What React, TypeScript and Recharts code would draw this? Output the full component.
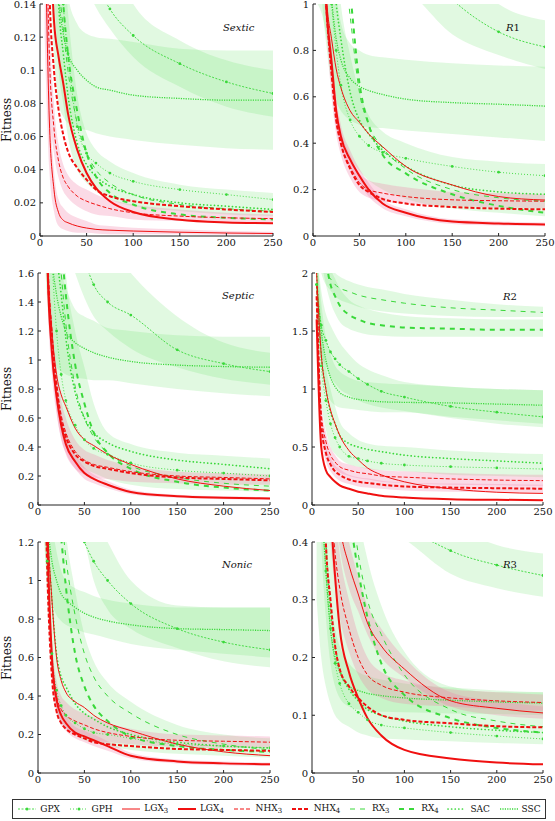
import React from "react";
import { ComposedChart, Line, Area, XAxis, YAxis } from "recharts";

const GREEN = "#3ad83a";
const RED = "#f01010";
const GREEN_BAND = "#5ee05e";
const PINK_BAND = "#f27aa6";
const FONT = "'DejaVu Serif', serif";

const GENS = [5, 10, 15, 20, 25, 30, 40, 50, 60, 75, 100, 150, 200, 250];
const X_TICKS = [0, 50, 100, 150, 200, 250];

// ---- Sextic ----
const SEXTIC_GPX = [0.6, 0.5, 0.4, 0.32, 0.27, 0.24, 0.2, 0.17, 0.153, 0.137, 0.121, 0.104, 0.093, 0.086];
const SEXTIC_GPH = [0.5, 0.4, 0.3, 0.2, 0.14, 0.11, 0.066, 0.05, 0.044, 0.038, 0.033, 0.028, 0.025, 0.022];
const SEXTIC_LGX3 = [0.2, 0.07, 0.028, 0.014, 0.0095, 0.008, 0.006, 0.0048, 0.004, 0.0035, 0.003, 0.0023, 0.0018, 0.0015];
const SEXTIC_LGX4 = [0.5, 0.22, 0.13, 0.108, 0.092, 0.074, 0.052, 0.038, 0.029, 0.021, 0.0145, 0.0098, 0.0082, 0.0077];
const SEXTIC_NHX3 = [0.25, 0.11, 0.065, 0.045, 0.035, 0.03, 0.024, 0.021, 0.019, 0.0165, 0.014, 0.012, 0.011, 0.0105];
const SEXTIC_NHX4 = [0.4, 0.15, 0.1, 0.076, 0.061, 0.051, 0.041, 0.034, 0.028, 0.024, 0.021, 0.018, 0.016, 0.0145];
const SEXTIC_RX3 = [0.5, 0.35, 0.25, 0.16, 0.125, 0.1, 0.068, 0.05, 0.04, 0.032, 0.025, 0.019, 0.0165, 0.015];
const SEXTIC_RX4 = [0.5, 0.4, 0.28, 0.19, 0.14, 0.11, 0.075, 0.05, 0.036, 0.026, 0.019, 0.013, 0.011, 0.01];
const SEXTIC_SAC = [0.5, 0.35, 0.22, 0.14, 0.11, 0.085, 0.056, 0.043, 0.036, 0.03, 0.025, 0.02, 0.018, 0.016];
const SEXTIC_SSC = [0.4, 0.3, 0.2, 0.145, 0.122, 0.11, 0.1, 0.094, 0.09, 0.088, 0.085, 0.083, 0.082, 0.082];
const SEXTIC_GPX_LO = [0.4, 0.35, 0.3, 0.26, 0.23, 0.21, 0.175, 0.15, 0.138, 0.125, 0.108, 0.09, 0.078, 0.072];
const SEXTIC_GPX_HI = [0.8, 0.7, 0.6, 0.5, 0.4, 0.35, 0.3, 0.26, 0.2, 0.17, 0.14, 0.118, 0.106, 0.1];
const SEXTIC_SSC_LO = [0.25, 0.17, 0.11, 0.08, 0.072, 0.068, 0.065, 0.064, 0.062, 0.06, 0.058, 0.055, 0.053, 0.052];
const SEXTIC_SSC_HI = [0.6, 0.45, 0.3, 0.22, 0.17, 0.145, 0.128, 0.122, 0.12, 0.119, 0.117, 0.113, 0.112, 0.112];
const SEXTIC_GPH_LO = [0.3, 0.2, 0.15, 0.1, 0.08, 0.06, 0.04, 0.032, 0.027, 0.022, 0.018, 0.015, 0.013, 0.012];
const SEXTIC_GPH_HI = [0.7, 0.6, 0.4, 0.22, 0.17, 0.135, 0.085, 0.062, 0.052, 0.045, 0.038, 0.031, 0.028, 0.026];
const SEXTIC_LGX3_LO = [0.12, 0.04, 0.015, 0.006, 0.004, 0.003, 0.002, 0.002, 0.0015, 0.001, 0.001, 0.001, 0.0008, 0.0006];
const SEXTIC_LGX3_HI = [0.28, 0.1, 0.04, 0.022, 0.017, 0.014, 0.011, 0.009, 0.007, 0.006, 0.005, 0.004, 0.003, 0.0025];
const SEXTIC_NHX3_LO = [0.2, 0.08, 0.05, 0.035, 0.027, 0.023, 0.018, 0.015, 0.013, 0.012, 0.01, 0.009, 0.008, 0.008];
const SEXTIC_NHX3_HI = [0.3, 0.14, 0.08, 0.055, 0.043, 0.037, 0.031, 0.028, 0.025, 0.022, 0.019, 0.016, 0.014, 0.013];

// ---- R1 ----
const R1_GPX = [3, 2.8, 2.5, 2.3, 2.1, 2, 1.8, 1.65, 1.55, 1.42, 1.25, 1.02, 0.88, 0.815];
const R1_GPH = [2.5, 1.8, 1.3, 1.0, 0.8, 0.65, 0.5, 0.43, 0.39, 0.36, 0.335, 0.3, 0.275, 0.26];
const R1_LGX3 = [2, 1.4, 1.0, 0.85, 0.72, 0.64, 0.54, 0.49, 0.44, 0.385, 0.3, 0.22, 0.17, 0.155];
const R1_LGX4 = [2, 1.3, 0.95, 0.75, 0.54, 0.43, 0.33, 0.26, 0.2, 0.14, 0.1, 0.062, 0.054, 0.05];
const R1_NHX3 = [2, 1.3, 0.95, 0.7, 0.5, 0.4, 0.3, 0.23, 0.2, 0.185, 0.17, 0.156, 0.152, 0.15];
const R1_NHX4 = [2, 1.3, 0.95, 0.7, 0.5, 0.4, 0.29, 0.22, 0.19, 0.16, 0.14, 0.125, 0.118, 0.115];
const R1_RX3 = [3, 2.6, 2.2, 1.8, 1.5, 1.3, 0.95, 0.62, 0.48, 0.38, 0.29, 0.2, 0.165, 0.15];
const R1_RX4 = [3, 2.6, 2.2, 1.9, 1.6, 1.4, 1.05, 0.66, 0.48, 0.35, 0.27, 0.18, 0.13, 0.1];
const R1_SAC = [2.5, 2, 1.5, 1.2, 1.0, 0.85, 0.62, 0.5, 0.44, 0.37, 0.3, 0.22, 0.19, 0.18];
const R1_SSC = [2, 1.6, 1.25, 1.02, 0.85, 0.76, 0.68, 0.645, 0.627, 0.61, 0.59, 0.575, 0.568, 0.56];
const R1_GPX_LO = [2, 1.9, 1.8, 1.7, 1.6, 1.5, 1.4, 1.3, 1.2, 1.1, 1.06, 0.87, 0.78, 0.72];
const R1_GPX_HI = [4, 3.5, 3, 2.8, 2.6, 2.5, 2.2, 2, 1.9, 1.75, 1.5, 1.2, 1.0, 0.93];
const R1_SSC_LO = [1.3, 1.0, 0.8, 0.65, 0.58, 0.54, 0.5, 0.48, 0.47, 0.465, 0.455, 0.44, 0.425, 0.41];
const R1_SSC_HI = [2.5, 2.0, 1.6, 1.3, 1.05, 0.92, 0.83, 0.8, 0.78, 0.77, 0.76, 0.745, 0.735, 0.73];
const R1_GPH_LO = [1.0, 0.95, 0.85, 0.75, 0.6, 0.45, 0.34, 0.28, 0.24, 0.2, 0.16, 0.12, 0.1, 0.085];
const R1_GPH_HI = [3, 2.5, 2, 1.6, 1.2, 1.0, 0.78, 0.62, 0.52, 0.45, 0.4, 0.34, 0.32, 0.31];
const R1_LGX4_LO = [1.8, 1.2, 0.88, 0.68, 0.48, 0.38, 0.29, 0.23, 0.17, 0.12, 0.085, 0.052, 0.045, 0.042];
const R1_LGX4_HI = [2.2, 1.4, 1.02, 0.82, 0.6, 0.48, 0.37, 0.29, 0.23, 0.16, 0.115, 0.072, 0.063, 0.058];
const R1_NHX3_LO = [1.8, 1.2, 0.85, 0.6, 0.44, 0.35, 0.25, 0.19, 0.165, 0.15, 0.14, 0.13, 0.122, 0.12];
const R1_NHX3_HI = [2.2, 1.4, 1.05, 0.8, 0.58, 0.46, 0.35, 0.27, 0.24, 0.225, 0.21, 0.19, 0.185, 0.18];

// ---- Septic ----
const SEPTIC_GPX = [4, 3.6, 3.2, 2.9, 2.6, 2.4, 2.0, 1.7, 1.52, 1.4, 1.31, 1.07, 0.975, 0.92];
const SEPTIC_GPH = [3, 2.4, 1.7, 1.2, 0.9, 0.72, 0.55, 0.45, 0.39, 0.35, 0.29, 0.24, 0.22, 0.2];
const SEPTIC_LGX3 = [4, 1.8, 1.2, 0.9, 0.76, 0.68, 0.53, 0.45, 0.41, 0.35, 0.28, 0.18, 0.13, 0.1];
const SEPTIC_LGX4 = [4, 1.7, 1.05, 0.75, 0.55, 0.42, 0.3, 0.22, 0.18, 0.14, 0.09, 0.06, 0.05, 0.045];
const SEPTIC_NHX3 = [4, 1.8, 1.2, 0.85, 0.62, 0.5, 0.37, 0.31, 0.28, 0.26, 0.23, 0.2, 0.19, 0.18];
const SEPTIC_NHX4 = [4, 1.75, 1.15, 0.8, 0.58, 0.47, 0.35, 0.3, 0.27, 0.25, 0.22, 0.19, 0.18, 0.17];
const SEPTIC_RX3 = [4, 3, 2.4, 2.0, 1.6, 1.25, 0.82, 0.6, 0.47, 0.36, 0.27, 0.19, 0.15, 0.13];
const SEPTIC_RX4 = [4, 3.2, 2.6, 2.2, 1.8, 1.45, 0.97, 0.7, 0.5, 0.36, 0.25, 0.16, 0.12, 0.1];
const SEPTIC_SAC = [4, 3, 2.2, 1.75, 1.45, 1.15, 0.78, 0.6, 0.5, 0.43, 0.37, 0.31, 0.28, 0.25];
const SEPTIC_SSC = [3, 2.2, 1.7, 1.45, 1.3, 1.2, 1.12, 1.08, 1.05, 1.02, 0.99, 0.965, 0.955, 0.95];
const SEPTIC_GPX_LO = [3, 2.7, 2.4, 2.1, 1.95, 1.8, 1.6, 1.43, 1.3, 1.2, 1.08, 0.95, 0.87, 0.83];
const SEPTIC_GPX_HI = [5, 4.5, 4, 3.6, 3.3, 3, 2.6, 2.2, 2, 1.8, 1.6, 1.3, 1.12, 1.05];
const SEPTIC_SSC_LO = [2, 1.4, 1.05, 0.95, 0.92, 0.9, 0.88, 0.87, 0.86, 0.86, 0.84, 0.8, 0.77, 0.75];
const SEPTIC_SSC_HI = [4, 3, 2.2, 1.75, 1.6, 1.5, 1.35, 1.3, 1.27, 1.22, 1.2, 1.17, 1.16, 1.16];
const SEPTIC_GPH_LO = [2, 1.5, 1.0, 0.7, 0.5, 0.4, 0.3, 0.25, 0.22, 0.18, 0.14, 0.11, 0.1, 0.09];
const SEPTIC_GPH_HI = [5, 4, 3, 2.5, 2, 1.6, 1.2, 0.95, 0.7, 0.5, 0.42, 0.36, 0.34, 0.32];
const SEPTIC_NHX4_LO = [3.6, 1.5, 1.0, 0.65, 0.45, 0.36, 0.25, 0.21, 0.19, 0.18, 0.16, 0.15, 0.14, 0.14];
const SEPTIC_NHX4_HI = [4.4, 2.0, 1.3, 0.95, 0.72, 0.6, 0.45, 0.38, 0.35, 0.31, 0.27, 0.23, 0.22, 0.21];
const SEPTIC_LGX4_LO = [3.6, 1.5, 0.9, 0.63, 0.46, 0.35, 0.25, 0.18, 0.15, 0.115, 0.075, 0.05, 0.04, 0.036];
const SEPTIC_LGX4_HI = [4.4, 1.9, 1.2, 0.87, 0.64, 0.49, 0.35, 0.26, 0.21, 0.165, 0.105, 0.07, 0.06, 0.054];

// ---- R2 ----
const R2_GPX = [1.9, 1.55, 1.42, 1.32, 1.26, 1.21, 1.15, 1.09, 1.04, 0.98, 0.93, 0.85, 0.8, 0.76];
const R2_GPH = [1.9, 1.2, 0.9, 0.7, 0.58, 0.5, 0.42, 0.4, 0.38, 0.36, 0.345, 0.33, 0.32, 0.31];
const R2_LGX3 = [2.0, 1.3, 1.0, 0.82, 0.7, 0.6, 0.47, 0.39, 0.32, 0.26, 0.2, 0.14, 0.11, 0.1];
const R2_LGX4 = [1.6, 0.5, 0.3, 0.24, 0.2, 0.17, 0.14, 0.115, 0.1, 0.08, 0.065, 0.05, 0.045, 0.042];
const R2_NHX3 = [1.9, 0.8, 0.55, 0.43, 0.37, 0.33, 0.3, 0.28, 0.27, 0.25, 0.24, 0.225, 0.215, 0.21];
const R2_NHX4 = [1.8, 0.7, 0.45, 0.35, 0.29, 0.26, 0.22, 0.2, 0.19, 0.175, 0.16, 0.15, 0.145, 0.14];
const R2_RX3 = [2.3, 2.1, 2.0, 1.95, 1.9, 1.87, 1.84, 1.81, 1.79, 1.77, 1.74, 1.7, 1.68, 1.66];
const R2_RX4 = [2.5, 2.3, 2.1, 1.9, 1.8, 1.72, 1.64, 1.6, 1.57, 1.55, 1.53, 1.52, 1.51, 1.51];
const R2_SAC = [2.0, 1.3, 1.0, 0.8, 0.7, 0.6, 0.53, 0.5, 0.48, 0.46, 0.43, 0.4, 0.38, 0.36];
const R2_SSC = [1.9, 1.5, 1.25, 1.1, 1.02, 0.97, 0.93, 0.91, 0.9, 0.89, 0.885, 0.88, 0.87, 0.86];
const R2_RX3_LO = [2.2, 2.0, 1.9, 1.85, 1.8, 1.77, 1.74, 1.71, 1.69, 1.67, 1.65, 1.63, 1.62, 1.62];
const R2_RX3_HI = [2.4, 2.2, 2.1, 2.05, 2.0, 1.97, 1.93, 1.9, 1.88, 1.86, 1.82, 1.77, 1.73, 1.71];
const R2_RX4_LO = [2.3, 2.1, 1.9, 1.75, 1.65, 1.58, 1.52, 1.49, 1.47, 1.46, 1.45, 1.45, 1.45, 1.45];
const R2_RX4_HI = [2.7, 2.5, 2.3, 2.05, 1.95, 1.87, 1.77, 1.72, 1.69, 1.66, 1.63, 1.61, 1.6, 1.6];
const R2_GPX_LO = [1.6, 1.3, 1.2, 1.1, 1.05, 1.0, 0.95, 0.9, 0.87, 0.84, 0.81, 0.75, 0.7, 0.67];
const R2_GPX_HI = [2.2, 1.85, 1.65, 1.55, 1.47, 1.4, 1.3, 1.22, 1.17, 1.12, 1.06, 1.02, 1.0, 0.99];
const R2_SSC_LO = [1.6, 1.25, 1.0, 0.9, 0.86, 0.84, 0.83, 0.82, 0.81, 0.8, 0.8, 0.76, 0.73, 0.7];
const R2_SSC_HI = [2.2, 1.75, 1.45, 1.3, 1.2, 1.15, 1.1, 1.07, 1.06, 1.05, 1.04, 1.02, 1.0, 0.99];
const R2_GPH_LO = [1.5, 0.9, 0.65, 0.5, 0.44, 0.4, 0.35, 0.33, 0.31, 0.3, 0.29, 0.26, 0.25, 0.24];
const R2_GPH_HI = [2.3, 1.6, 1.2, 1.0, 0.85, 0.72, 0.62, 0.56, 0.53, 0.51, 0.5, 0.47, 0.45, 0.44];
const R2_NHX3_LO = [1.7, 0.7, 0.47, 0.36, 0.31, 0.28, 0.25, 0.23, 0.22, 0.2, 0.19, 0.175, 0.17, 0.165];
const R2_NHX3_HI = [2.1, 0.9, 0.63, 0.5, 0.43, 0.38, 0.35, 0.33, 0.32, 0.3, 0.29, 0.275, 0.265, 0.26];
const R2_NHX4_LO = [1.6, 0.6, 0.38, 0.29, 0.24, 0.21, 0.18, 0.16, 0.15, 0.14, 0.125, 0.115, 0.11, 0.105];
const R2_NHX4_HI = [2.0, 0.8, 0.52, 0.41, 0.34, 0.31, 0.26, 0.24, 0.23, 0.21, 0.195, 0.185, 0.18, 0.175];

// ---- Nonic ----
const NONIC_GPX = [2.2, 2.0, 1.85, 1.72, 1.6, 1.5, 1.33, 1.2, 1.1, 1.0, 0.88, 0.75, 0.68, 0.64];
const NONIC_GPH = [1.8, 1.1, 0.62, 0.43, 0.35, 0.3, 0.26, 0.23, 0.21, 0.2, 0.18, 0.15, 0.14, 0.13];
const NONIC_LGX3 = [2.5, 1.35, 0.9, 0.6, 0.48, 0.42, 0.37, 0.34, 0.3, 0.26, 0.22, 0.15, 0.11, 0.09];
const NONIC_LGX4 = [2.5, 1.25, 0.6, 0.38, 0.3, 0.26, 0.21, 0.19, 0.17, 0.14, 0.09, 0.06, 0.05, 0.045];
const NONIC_NHX3 = [2.2, 1.15, 0.6, 0.4, 0.33, 0.3, 0.27, 0.25, 0.23, 0.21, 0.19, 0.17, 0.165, 0.16];
const NONIC_NHX4 = [2.2, 1.05, 0.5, 0.32, 0.26, 0.23, 0.2, 0.18, 0.16, 0.15, 0.14, 0.125, 0.12, 0.115];
const NONIC_RX3 = [2.4, 2.1, 1.8, 1.55, 1.35, 1.12, 0.82, 0.62, 0.5, 0.4, 0.31, 0.2, 0.15, 0.12];
const NONIC_RX4 = [2.2, 1.9, 1.65, 1.45, 1.22, 0.97, 0.62, 0.45, 0.35, 0.27, 0.19, 0.14, 0.12, 0.11];
const NONIC_SAC = [2.0, 1.3, 0.9, 0.62, 0.5, 0.45, 0.36, 0.31, 0.28, 0.24, 0.2, 0.16, 0.14, 0.13];
const NONIC_SSC = [1.6, 1.3, 1.1, 1.0, 0.93, 0.9, 0.86, 0.83, 0.81, 0.79, 0.77, 0.75, 0.745, 0.74];
const NONIC_GPX_LO = [2, 1.9, 1.8, 1.65, 1.5, 1.4, 1.3, 1.2, 1.0, 0.85, 0.75, 0.65, 0.58, 0.55];
const NONIC_GPX_HI = [2.6, 2.4, 2.2, 2.05, 1.9, 1.8, 1.6, 1.45, 1.35, 1.2, 1.0, 0.87, 0.86, 0.86];
const NONIC_SSC_LO = [1.3, 1.0, 0.88, 0.82, 0.79, 0.77, 0.75, 0.73, 0.72, 0.7, 0.67, 0.64, 0.62, 0.6];
const NONIC_SSC_HI = [1.9, 1.55, 1.3, 1.15, 1.05, 1.0, 0.96, 0.94, 0.92, 0.9, 0.88, 0.86, 0.86, 0.86];
const NONIC_RX3_LO = [1.5, 0.9, 0.5, 0.32, 0.27, 0.24, 0.2, 0.17, 0.16, 0.14, 0.12, 0.1, 0.09, 0.08];
const NONIC_RX3_HI = [3, 2.6, 2.2, 1.8, 1.5, 1.25, 0.95, 0.72, 0.58, 0.47, 0.37, 0.25, 0.2, 0.18];
const NONIC_NHX3_LO = [2.0, 1.0, 0.5, 0.32, 0.26, 0.23, 0.2, 0.19, 0.17, 0.16, 0.15, 0.135, 0.13, 0.13];
const NONIC_NHX3_HI = [2.4, 1.3, 0.7, 0.48, 0.4, 0.37, 0.33, 0.31, 0.29, 0.26, 0.23, 0.2, 0.195, 0.19];
const NONIC_LGX4_LO = [2.3, 1.1, 0.5, 0.32, 0.25, 0.22, 0.18, 0.16, 0.14, 0.115, 0.075, 0.05, 0.04, 0.036];
const NONIC_LGX4_HI = [2.7, 1.4, 0.7, 0.44, 0.35, 0.3, 0.24, 0.22, 0.2, 0.165, 0.105, 0.07, 0.06, 0.054];

// ---- R3 ----
const R3_GPX = [0.9, 0.85, 0.8, 0.75, 0.7, 0.66, 0.6, 0.55, 0.52, 0.48, 0.435, 0.385, 0.36, 0.342];
const R3_GPH = [0.8, 0.5, 0.35, 0.25, 0.19, 0.155, 0.12, 0.105, 0.092, 0.083, 0.078, 0.07, 0.064, 0.059];
const R3_LGX3 = [1.0, 0.9, 0.75, 0.6, 0.5, 0.43, 0.36, 0.31, 0.26, 0.22, 0.18, 0.125, 0.112, 0.104];
const R3_LGX4 = [1.2, 0.9, 0.65, 0.46, 0.34, 0.25, 0.175, 0.13, 0.095, 0.065, 0.04, 0.025, 0.018, 0.015];
const R3_NHX3 = [1.0, 0.8, 0.6, 0.48, 0.38, 0.32, 0.25, 0.2, 0.17, 0.152, 0.14, 0.13, 0.125, 0.122];
const R3_NHX4 = [1.0, 0.7, 0.4, 0.3, 0.22, 0.18, 0.15, 0.13, 0.115, 0.1, 0.092, 0.086, 0.081, 0.079];
const R3_RX3 = [1.5, 1.2, 1.0, 0.85, 0.72, 0.62, 0.5, 0.38, 0.3, 0.24, 0.17, 0.11, 0.09, 0.08];
const R3_RX4 = [1.4, 1.1, 0.9, 0.75, 0.65, 0.55, 0.45, 0.35, 0.27, 0.19, 0.135, 0.095, 0.078, 0.07];
const R3_SAC = [0.9, 0.6, 0.4, 0.28, 0.22, 0.18, 0.145, 0.125, 0.11, 0.1, 0.09, 0.08, 0.074, 0.07];
const R3_SSC = [0.8, 0.5, 0.35, 0.25, 0.2, 0.175, 0.15, 0.143, 0.138, 0.134, 0.13, 0.126, 0.123, 0.121];
const R3_GPX_LO = [0.75, 0.7, 0.66, 0.62, 0.59, 0.56, 0.52, 0.49, 0.46, 0.43, 0.405, 0.345, 0.32, 0.305];
const R3_GPX_HI = [1.1, 1.0, 0.95, 0.9, 0.85, 0.8, 0.74, 0.68, 0.64, 0.58, 0.5, 0.43, 0.395, 0.38];
const R3_SSC_LO = [0.65, 0.4, 0.27, 0.19, 0.15, 0.13, 0.115, 0.11, 0.108, 0.106, 0.105, 0.103, 0.102, 0.1];
const R3_SSC_HI = [0.95, 0.6, 0.43, 0.31, 0.25, 0.22, 0.19, 0.175, 0.168, 0.162, 0.155, 0.148, 0.143, 0.14];
const R3_RX3_LO = [0.3, 0.2, 0.15, 0.12, 0.1, 0.09, 0.08, 0.07, 0.065, 0.06, 0.058, 0.055, 0.052, 0.05];
const R3_RX3_HI = [1.8, 1.4, 1.2, 1.0, 0.85, 0.72, 0.58, 0.45, 0.37, 0.29, 0.21, 0.15, 0.14, 0.14];
const R3_LGX3_LO = [0.9, 0.8, 0.68, 0.54, 0.45, 0.39, 0.32, 0.28, 0.24, 0.2, 0.165, 0.115, 0.1, 0.094];
const R3_LGX3_HI = [1.1, 1.0, 0.82, 0.66, 0.55, 0.47, 0.4, 0.34, 0.29, 0.25, 0.2, 0.14, 0.125, 0.115];
const R3_NHX3_LO = [0.9, 0.7, 0.52, 0.4, 0.32, 0.27, 0.21, 0.17, 0.145, 0.13, 0.12, 0.115, 0.11, 0.108];
const R3_NHX3_HI = [1.1, 0.9, 0.68, 0.56, 0.45, 0.38, 0.3, 0.24, 0.2, 0.175, 0.16, 0.145, 0.14, 0.136];

type LineStyle = { color: string; width: number; dash?: string; marker?: boolean; cap?: "round" | "butt" };
const STYLES: Record<string, LineStyle> = {
  GPX: { color: GREEN, width: 0.9, dash: "2 1.5", marker: true },
  GPH: { color: GREEN, width: 0.9, dash: "1 2", marker: true },
  LGX3: { color: RED, width: 1 },
  LGX4: { color: RED, width: 2 },
  NHX3: { color: RED, width: 1, dash: "4 2" },
  NHX4: { color: RED, width: 2, dash: "4 2" },
  RX3: { color: GREEN, width: 1, dash: "5 5" },
  RX4: { color: GREEN, width: 2, dash: "5 5" },
  SAC: { color: GREEN, width: 1.7, dash: "0.1 3.5", cap: "round" },
  SSC: { color: GREEN, width: 1.3, dash: "1.2 1.2" },
};
const DRAW_ORDER = ["SSC", "SAC", "RX4", "RX3", "GPH", "GPX", "NHX4", "NHX3", "LGX4", "LGX3"];
const LEGEND_ORDER = ["GPX", "GPH", "LGX3", "LGX4", "NHX3", "NHX4", "RX3", "RX4", "SAC", "SSC"];

type Band = { lo: number[]; hi: number[]; fill: string };
type PanelCfg = {
  title: string;
  yMax: number;
  yTicks: number[];
  left: number;
  top: number;
  width: number;
  height: number;
  mt: number;
  mr: number;
  yw: number;
  series: Record<string, number[]>;
  bands: Band[];
};

const g = (lo: number[], hi: number[]): Band => ({ lo, hi, fill: GREEN_BAND });
const p = (lo: number[], hi: number[]): Band => ({ lo, hi, fill: PINK_BAND });

const PANELS: PanelCfg[] = [
  {
    title: "Sextic", yMax: 0.14, yTicks: [0, 0.02, 0.04, 0.06, 0.08, 0.1, 0.12, 0.14],
    left: 0, top: 0, width: 292, height: 256, mt: 4, mr: 19, yw: 40,
    series: { GPX: SEXTIC_GPX, GPH: SEXTIC_GPH, LGX3: SEXTIC_LGX3, LGX4: SEXTIC_LGX4, NHX3: SEXTIC_NHX3, NHX4: SEXTIC_NHX4, RX3: SEXTIC_RX3, RX4: SEXTIC_RX4, SAC: SEXTIC_SAC, SSC: SEXTIC_SSC },
    bands: [g(SEXTIC_GPX_LO, SEXTIC_GPX_HI), g(SEXTIC_SSC_LO, SEXTIC_SSC_HI), g(SEXTIC_GPH_LO, SEXTIC_GPH_HI), p(SEXTIC_LGX3_LO, SEXTIC_LGX3_HI), p(SEXTIC_NHX3_LO, SEXTIC_NHX3_HI)],
  },
  {
    title: "R1", yMax: 1, yTicks: [0, 0.2, 0.4, 0.6, 0.8, 1],
    left: 280, top: 0, width: 285, height: 256, mt: 4, mr: 20, yw: 33,
    series: { GPX: R1_GPX, GPH: R1_GPH, LGX3: R1_LGX3, LGX4: R1_LGX4, NHX3: R1_NHX3, NHX4: R1_NHX4, RX3: R1_RX3, RX4: R1_RX4, SAC: R1_SAC, SSC: R1_SSC },
    bands: [g(R1_GPX_LO, R1_GPX_HI), g(R1_SSC_LO, R1_SSC_HI), g(R1_GPH_LO, R1_GPH_HI), p(R1_LGX4_LO, R1_LGX4_HI), p(R1_NHX3_LO, R1_NHX3_HI)],
  },
  {
    title: "Septic", yMax: 1.6, yTicks: [0, 0.2, 0.4, 0.6, 0.8, 1, 1.2, 1.4, 1.6],
    left: 0, top: 260, width: 292, height: 265, mt: 13, mr: 22, yw: 38,
    series: { GPX: SEPTIC_GPX, GPH: SEPTIC_GPH, LGX3: SEPTIC_LGX3, LGX4: SEPTIC_LGX4, NHX3: SEPTIC_NHX3, NHX4: SEPTIC_NHX4, RX3: SEPTIC_RX3, RX4: SEPTIC_RX4, SAC: SEPTIC_SAC, SSC: SEPTIC_SSC },
    bands: [g(SEPTIC_GPX_LO, SEPTIC_GPX_HI), g(SEPTIC_SSC_LO, SEPTIC_SSC_HI), g(SEPTIC_GPH_LO, SEPTIC_GPH_HI), p(SEPTIC_NHX4_LO, SEPTIC_NHX4_HI), p(SEPTIC_LGX4_LO, SEPTIC_LGX4_HI)],
  },
  {
    title: "R2", yMax: 2, yTicks: [0, 0.5, 1, 1.5, 2],
    left: 280, top: 260, width: 285, height: 265, mt: 13, mr: 22, yw: 32,
    series: { GPX: R2_GPX, GPH: R2_GPH, LGX3: R2_LGX3, LGX4: R2_LGX4, NHX3: R2_NHX3, NHX4: R2_NHX4, RX3: R2_RX3, RX4: R2_RX4, SAC: R2_SAC, SSC: R2_SSC },
    bands: [g(R2_RX3_LO, R2_RX3_HI), g(R2_RX4_LO, R2_RX4_HI), g(R2_GPX_LO, R2_GPX_HI), g(R2_SSC_LO, R2_SSC_HI), g(R2_GPH_LO, R2_GPH_HI), p(R2_NHX3_LO, R2_NHX3_HI), p(R2_NHX4_LO, R2_NHX4_HI)],
  },
  {
    title: "Nonic", yMax: 1.2, yTicks: [0, 0.2, 0.4, 0.6, 0.8, 1, 1.2],
    left: 0, top: 530, width: 292, height: 263, mt: 12, mr: 22, yw: 38,
    series: { GPX: NONIC_GPX, GPH: NONIC_GPH, LGX3: NONIC_LGX3, LGX4: NONIC_LGX4, NHX3: NONIC_NHX3, NHX4: NONIC_NHX4, RX3: NONIC_RX3, RX4: NONIC_RX4, SAC: NONIC_SAC, SSC: NONIC_SSC },
    bands: [g(NONIC_GPX_LO, NONIC_GPX_HI), g(NONIC_SSC_LO, NONIC_SSC_HI), g(NONIC_RX3_LO, NONIC_RX3_HI), p(NONIC_NHX3_LO, NONIC_NHX3_HI), p(NONIC_LGX4_LO, NONIC_LGX4_HI)],
  },
  {
    title: "R3", yMax: 0.4, yTicks: [0, 0.1, 0.2, 0.3, 0.4],
    left: 280, top: 530, width: 285, height: 263, mt: 12, mr: 22, yw: 32,
    series: { GPX: R3_GPX, GPH: R3_GPH, LGX3: R3_LGX3, LGX4: R3_LGX4, NHX3: R3_NHX3, NHX4: R3_NHX4, RX3: R3_RX3, RX4: R3_RX4, SAC: R3_SAC, SSC: R3_SSC },
    bands: [g(R3_GPX_LO, R3_GPX_HI), g(R3_SSC_LO, R3_SSC_HI), g(R3_RX3_LO, R3_RX3_HI), p(R3_LGX3_LO, R3_LGX3_HI), p(R3_NHX3_LO, R3_NHX3_HI)],
  },
];

const TITLE_POS = [
  { left: 223, top: 22 },
  { left: 506, top: 22 },
  { left: 222, top: 290 },
  { left: 503, top: 291 },
  { left: 222, top: 559 },
  { left: 503, top: 559 },
];

const FITNESS_Y = [120, 389, 658];

function Panel({ cfg }: { cfg: PanelCfg }) {
  const rows = GENS.map((gen, i) => {
    const row: Record<string, number | number[]> = { gen };
    Object.keys(cfg.series).forEach((k) => {
      row[k] = cfg.series[k][i];
    });
    cfg.bands.forEach((b, j) => {
      row["band" + j] = [b.lo[i], b.hi[i]];
    });
    return row;
  });
  const tickStyle = { fontFamily: FONT, fontSize: 10, fill: "#111" };
  const blank = () => "";

  return (
    <div style={{ position: "absolute", left: cfg.left, top: cfg.top }}>
      <ComposedChart
        width={cfg.width}
        height={cfg.height}
        data={rows}
        margin={{ top: cfg.mt, right: cfg.mr, bottom: 0, left: 0 }}
      >
        <XAxis
          xAxisId="b"
          dataKey="gen"
          type="number"
          domain={[0, 250]}
          ticks={X_TICKS}
          interval={0}
          allowDataOverflow
          height={20}
          tickSize={-3}
          tickMargin={6}
          stroke="#222"
          tick={tickStyle}
        />
        <XAxis
          xAxisId="t"
          orientation="top"
          dataKey="gen"
          type="number"
          domain={[0, 250]}
          ticks={X_TICKS}
          interval={0}
          height={0}
          tickSize={-3}
          stroke="#222"
          tickFormatter={blank}
        />
        <YAxis
          yAxisId="l"
          type="number"
          domain={[0, cfg.yMax]}
          ticks={cfg.yTicks}
          interval={0}
          allowDataOverflow
          width={cfg.yw}
          tickSize={-3}
          tickMargin={7}
          stroke="#222"
          tick={tickStyle}
        />
        <YAxis
          yAxisId="r"
          orientation="right"
          type="number"
          domain={[0, cfg.yMax]}
          ticks={cfg.yTicks}
          interval={0}
          width={0}
          tickSize={-3}
          stroke="#222"
          tickFormatter={blank}
        />
        {cfg.bands.map((b, j) => (
          <Area
            key={"band" + j}
            xAxisId="b"
            yAxisId="l"
            dataKey={"band" + j}
            type="monotone"
            stroke="none"
            fill={b.fill}
            fillOpacity={b.fill === PINK_BAND ? 0.28 : 0.19}
            isAnimationActive={false}
            activeDot={false}
          />
        ))}
        {DRAW_ORDER.map((k) => {
          const s = STYLES[k];
          return (
            <Line
              key={k}
              xAxisId="b"
              yAxisId="l"
              dataKey={k}
              type="monotone"
              stroke={s.color}
              strokeWidth={s.width}
              strokeDasharray={s.dash}
              strokeLinecap={s.cap || "butt"}
              dot={s.marker ? { r: 1.4, fill: s.color, stroke: "none" } : false}
              activeDot={false}
              isAnimationActive={false}
            />
          );
        })}
      </ComposedChart>
    </div>
  );
}

function LegendSample({ name }: { name: string }) {
  const s = STYLES[name];
  return (
    <svg width={20} height={8} style={{ marginRight: 3 }}>
      <line
        x1={1}
        y1={4}
        x2={19}
        y2={4}
        stroke={s.color}
        strokeWidth={s.width}
        strokeDasharray={s.dash}
        strokeLinecap={s.cap || "butt"}
      />
      {s.marker && <circle cx={10} cy={4} r={1.5} fill={s.color} />}
    </svg>
  );
}

function LegendLabel({ name }: { name: string }) {
  const m = name.match(/^(.*?)(\d)$/);
  if (!m) return <span>{name}</span>;
  return (
    <span>
      {m[1]}
      <sub style={{ fontSize: 7, verticalAlign: "-2px" }}>{m[2]}</sub>
    </span>
  );
}

export default function App() {
  return (
    <div
      style={{
        position: "absolute",
        left: 0,
        top: 0,
        width: 555,
        height: 821,
        background: "#fff",
        overflow: "hidden",
      }}
    >
      {PANELS.map((cfg) => (
        <Panel key={cfg.title} cfg={cfg} />
      ))}
      {PANELS.map((cfg, i) => (
        <div
          key={"t" + cfg.title}
          style={{
            position: "absolute",
            left: TITLE_POS[i].left,
            top: TITLE_POS[i].top,
            fontFamily: FONT,
            fontStyle: "italic",
            fontSize: 10,
            lineHeight: "12px",
            color: "#111",
          }}
        >
          {cfg.title.startsWith("R") ? (
            <span>
              R<span style={{ fontStyle: "normal" }}>{cfg.title.slice(1)}</span>
            </span>
          ) : (
            cfg.title
          )}
        </div>
      ))}
      {FITNESS_Y.map((y) => (
        <div
          key={"f" + y}
          style={{
            position: "absolute",
            left: 7,
            top: y,
            transform: "translate(-50%, -50%) rotate(-90deg)",
            fontFamily: FONT,
            fontSize: 12,
            lineHeight: "12px",
            color: "#111",
            whiteSpace: "nowrap",
          }}
        >
          Fitness
        </div>
      ))}
      <div
        style={{
          position: "absolute",
          left: 12,
          top: 799,
          width: 534,
          height: 20,
          boxSizing: "border-box",
          border: "1px solid #333",
          display: "flex",
          alignItems: "center",
          justifyContent: "space-around",
          fontFamily: FONT,
          fontSize: 9,
          color: "#111",
        }}
      >
        {LEGEND_ORDER.map((k) => (
          <div key={k} style={{ display: "flex", alignItems: "center" }}>
            <LegendSample name={k} />
            <LegendLabel name={k} />
          </div>
        ))}
      </div>
    </div>
  );
}
